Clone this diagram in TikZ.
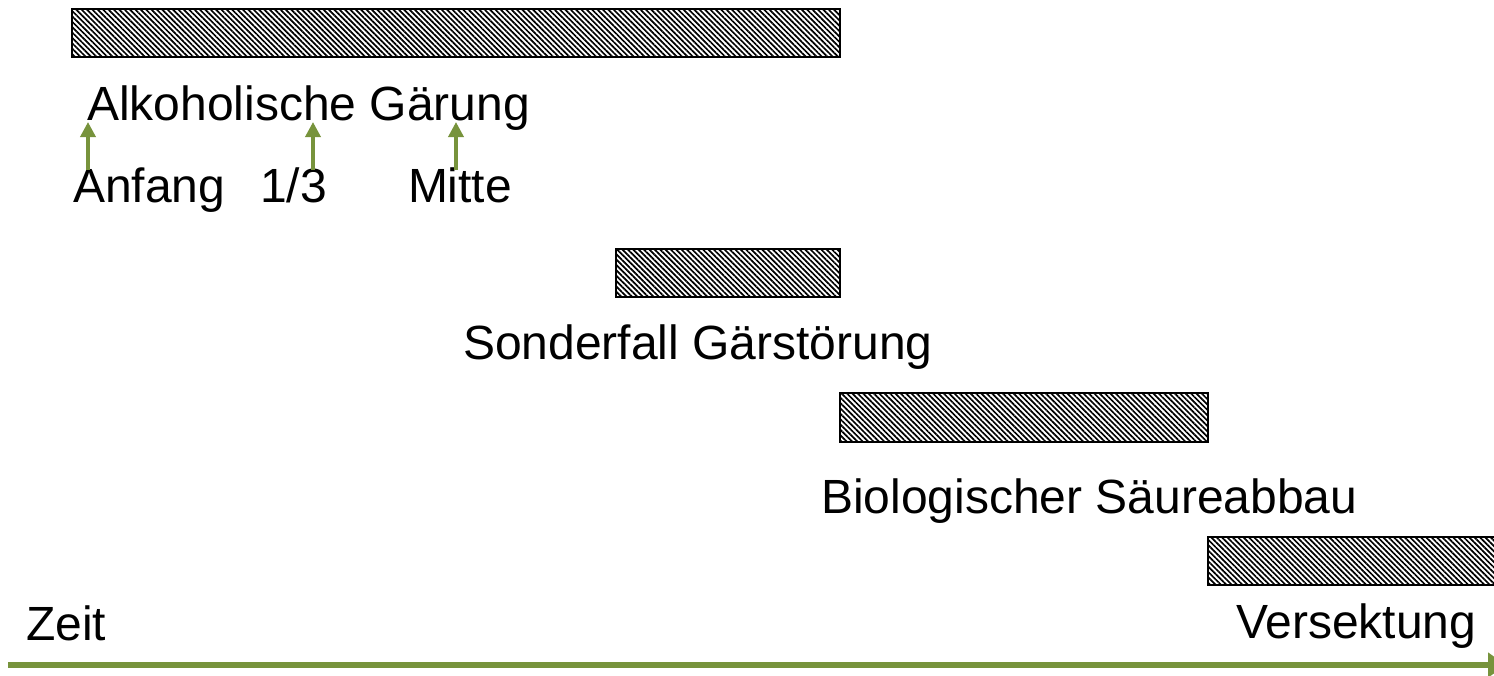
\documentclass[tikz,border=0pt]{standalone}
\usepackage{fontspec}
\setmainfont{Liberation Sans}
\usetikzlibrary{patterns.meta,arrows.meta}
\definecolor{axisgreen}{HTML}{77933C}
\begin{document}
\begin{tikzpicture}[x=1pt,y=-1pt,
  bar/.style={rectangle, draw=black, line width=2pt, inner sep=0pt, outer sep=0pt,
    anchor=north west,
    pattern={Lines[angle=-45,distance=3.8pt,line width=1.7pt]}},
  lbl/.style={anchor=base west, inner sep=0pt, outer sep=0pt,
    font=\fontsize{48}{57}\selectfont},
  markarrow/.style={draw=axisgreen, line width=3.5pt,
    -{Triangle[width=15pt,length=15pt]}},
  timeaxis/.style={draw=axisgreen, line width=6.5pt,
    -{Triangle[width=24pt,length=18pt]}}]
\useasboundingbox (0,0) rectangle (1494,675);
\clip (0,0) rectangle (1494,675);

% phase bars
\node[bar, minimum width=768pt, minimum height=48pt] (bar1) at (72,9) {};
\node[bar, minimum width=224pt, minimum height=48pt] (bar2) at (616,249) {};
\node[bar, minimum width=368pt, minimum height=49pt] (bar3) at (840,393) {};
\node[bar, minimum width=320pt, minimum height=48pt] (bar4) at (1208,537) {};

% phase labels
\node[lbl] (alk) at (87,120) {Alkoholische Gärung};
\node[lbl] (son) at (463,359) {Sonderfall Gärstörung};
\node[lbl] (bio) at (821,513) {Biologischer Säureabbau};
\node[lbl] (ver) at (1236,638) {Versektung};
\node[lbl] (zeit) at (26,640) {Zeit};

% time points within the fermentation
\node[lbl] (anf) at (73,202) {Anfang};
\node[lbl] (drittel) at (260,202) {1/3};
\node[lbl] (mitte) at (408,202) {Mitte};

\coordinate (p1s) at (88,170);  \coordinate (p1e) at (88,122);
\coordinate (p2s) at (313,170); \coordinate (p2e) at (313,122);
\coordinate (p3s) at (456,170); \coordinate (p3e) at (456,122);
\draw[markarrow] (p1s) -- (p1e);
\draw[markarrow] (p2s) -- (p2e);
\draw[markarrow] (p3s) -- (p3e);

% time axis
\coordinate (ax0) at (8,665);
\coordinate (ax1) at (1506,665);
\draw[timeaxis] (ax0) -- (ax1);
\end{tikzpicture}
\end{document}
